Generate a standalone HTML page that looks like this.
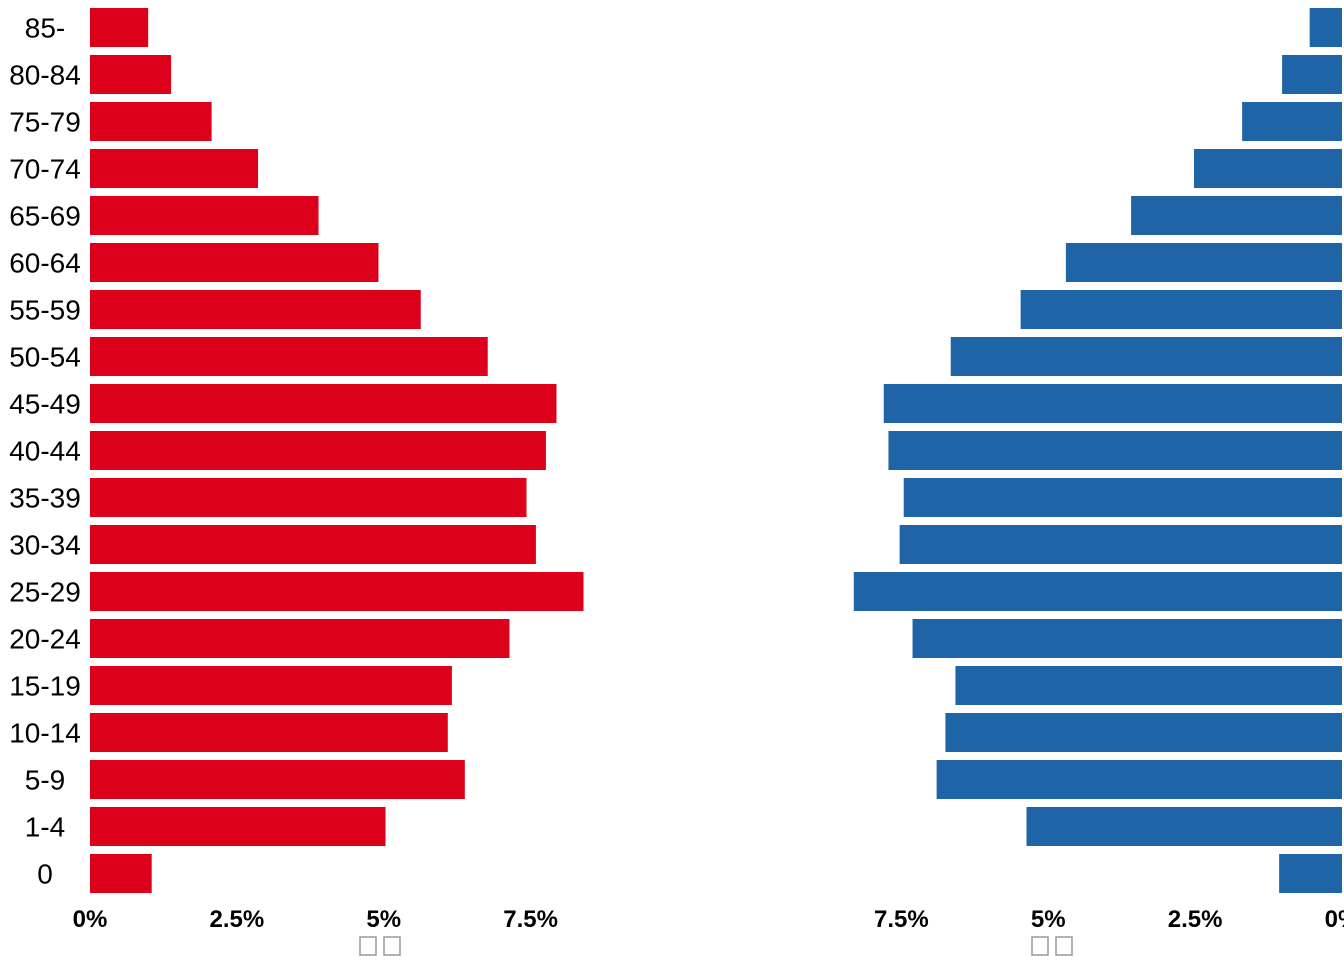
<!DOCTYPE html>
<html><head><meta charset="utf-8"><style>
body{margin:0;background:#fff;width:1344px;height:960px;overflow:hidden;font-family:"Liberation Sans",sans-serif}
</style></head><body>
<svg id="chart" width="1344" height="960" xmlns="http://www.w3.org/2000/svg"></svg>
<script>
const categories=["85-","80-84","75-79","70-74","65-69","60-64","55-59","50-54","45-49","40-44","35-39","30-34","25-29","20-24","15-19","10-14","5-9","1-4","0"];
const leftValues=[0.99,1.38,2.07,2.86,3.89,4.91,5.63,6.77,7.94,7.76,7.43,7.59,8.40,7.14,6.16,6.09,6.38,5.03,1.05];
const rightValues=[0.55,1.02,1.70,2.52,3.59,4.70,5.47,6.66,7.80,7.72,7.46,7.53,8.31,7.31,6.58,6.75,6.90,5.37,1.07];
const tickValues=[0,2.5,5,7.5];
const tickLabels=["0%","2.5%","5%","7.5%"];
const svg=document.getElementById('chart');
const NS="http://www.w3.org/2000/svg";
const pxPer=58.75;
const xL=v=>90+v*pxPer;
const xR=v=>1342-v*pxPer;
const yRow=i=>8+i*47;
const bh=39;
function mk(t,a){const e=document.createElementNS(NS,t);for(const k in a)e.setAttribute(k,a[k]);svg.appendChild(e);return e;}
categories.forEach((c,i)=>{
  const t=mk('text',{x:45,y:yRow(i)+bh/2+10,'text-anchor':'middle','font-size':28,fill:'#000'});
  t.textContent=c;
  
  
  const l=mk('rect',{x:xL(0),y:yRow(i),width:xL(leftValues[i])-xL(0),height:bh,fill:'#DC001A'});
  
  
  const r=mk('rect',{x:xR(rightValues[i]),y:yRow(i),width:xR(0)-xR(rightValues[i]),height:bh,fill:'#1F64A6'});
  
  
});
tickValues.forEach((v,i)=>{
  const a=mk('text',{x:xL(v),y:927,'text-anchor':'middle','font-size':24,'font-weight':'bold',fill:'#000'});
  a.textContent=tickLabels[i];
  
  
  const b=mk('text',{x:xR(v),y:927,'text-anchor':'middle','font-size':24,'font-weight':'bold',fill:'#000'});
  b.textContent=tickLabels[i];
  
  
});
[[360,xL(5)],[1032,xR(5)]].forEach(([x0],k)=>{
  for(let j=0;j<2;j++){
    const r=mk('rect',{x:x0+j*24,y:937,width:16,height:18,fill:'none',stroke:'#999','stroke-width':1.5});
    
    
  }
});
</script>
</body></html>
